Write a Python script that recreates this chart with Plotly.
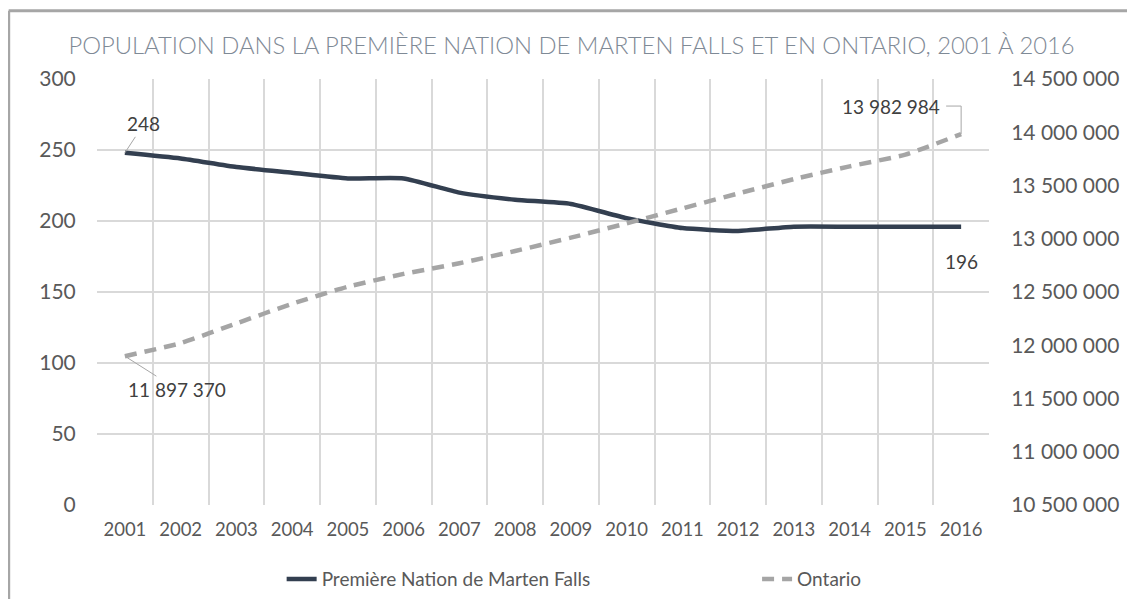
import plotly.graph_objects as go

years = list(range(2001, 2017))
marten_falls = [248, 244, 238, 234, 230, 230, 220, 215, 212, 202, 195, 193, 196, 196, 196, 196]
ontario = [11897370, 12020000, 12205000, 12390000, 12550000, 12670000, 12770000, 12885000,
           13010000, 13145000, 13285000, 13425000, 13560000, 13680000, 13790000, 13982984]
left_ticks = list(range(0, 301, 50))
right_ticks = list(range(10500000, 14500001, 500000))

title_text = "POPULATION DANS LA PREMIÈRE NATION DE MARTEN FALLS ET EN ONTARIO, 2001 À 2016"
FONT = "Lato"


def fmt(n):
    # thousands separated by a space, as in the French original
    return f"{n:,}".replace(",", " ")


fig = go.Figure()
fig.add_trace(go.Scatter(
    x=years, y=marten_falls, name="Première Nation de Marten Falls",
    mode="lines", line=dict(color="#333f50", width=4.5, shape="spline", smoothing=0.5),
    yaxis="y", legend="legend"
))
fig.add_trace(go.Scatter(
    x=years, y=ontario, name="Ontario",
    mode="lines", line=dict(color="#a5a5a5", width=4.5, dash="12px,8px", shape="spline", smoothing=0.5),
    yaxis="y2", legend="legend2"
))

label_font = dict(size=19, color="#404040", family=FONT)

# data labels
fig.add_annotation(x=years[0], y=marten_falls[0], yref="y", text=fmt(marten_falls[0]),
                   showarrow=True, arrowhead=0, arrowwidth=1, arrowcolor="#a6a6a6",
                   ax=19, ay=-29, font=label_font)
fig.add_annotation(x=years[-1], y=marten_falls[-1], yref="y", text=fmt(marten_falls[-1]),
                   showarrow=False, yshift=-35, font=label_font)
fig.add_annotation(x=years[0], y=ontario[0], yref="y2", text=fmt(ontario[0]),
                   showarrow=True, arrowhead=0, arrowwidth=1, arrowcolor="#a6a6a6",
                   ax=52, ay=33, font=label_font)
fig.add_annotation(x=years[-1], y=ontario[-1], yref="y2", text=fmt(ontario[-1]),
                   showarrow=False, xanchor="right", xshift=-19, yshift=28, font=label_font)
fig.add_shape(type="path", xref="x", yref="y2", xsizemode="pixel", ysizemode="pixel",
              xanchor=years[-1], yanchor=ontario[-1], path="M0,0 L0,28 L-15,28",
              line=dict(color="#a6a6a6", width=1))

# outer chart frame (cropped at the right and bottom)
fig.add_shape(type="line", xref="paper", yref="paper", x0=-0.099, x1=1.2, y0=1.16, y1=1.16,
              line=dict(color="#a6a6a6", width=3))
fig.add_shape(type="line", xref="paper", yref="paper", x0=-0.099, x1=-0.099, y0=1.16, y1=-0.3,
              line=dict(color="#a6a6a6", width=3))

# the page puts the figure 8px in from the top-left corner
fig.update_layout(
    width=1127, height=591,
    margin=dict(l=89, r=146, t=71, b=94, autoexpand=False),
    paper_bgcolor="white", plot_bgcolor="white",
    font=dict(family=FONT, size=18, color="#595959"),
    title=dict(text=title_text, x=0.5, xanchor="center", y=0.937, yanchor="middle",
               font=dict(family=FONT, size=23.8, color="#7f8a96", weight=300)),
    xaxis=dict(
        range=[2000.5, 2016.5], tickvals=years, ticktext=[str(y) for y in years],
        showgrid=False, zeroline=False, showline=False, automargin=False,
        ticks="outside", ticklen=8, tickcolor="rgba(0,0,0,0)",
        tickfont=dict(size=18.5),
        minor=dict(tick0=2000.5, dtick=1, showgrid=True, gridcolor="#d9d9d9", gridwidth=1.5),
    ),
    yaxis=dict(
        range=[0, 300], tickvals=left_ticks, showgrid=True, gridcolor="#d9d9d9", gridwidth=1.5,
        zeroline=False, ticks="outside", ticklen=16, tickcolor="rgba(0,0,0,0)",
        automargin=False, tickfont=dict(size=21),
    ),
    yaxis2=dict(
        range=[10500000, 14500000], tickvals=right_ticks, ticktext=[fmt(v) for v in right_ticks],
        overlaying="y", side="right", showgrid=False, zeroline=False, automargin=False,
        ticks="outside", ticklen=17, tickcolor="rgba(0,0,0,0)",
        tickfont=dict(size=21),
    ),
    showlegend=True,
    legend=dict(orientation="h", x=0.207, xanchor="left", y=-0.174, yanchor="middle",
                font=dict(size=19, color="#595959")),
    legend2=dict(orientation="h", x=0.74, xanchor="left", y=-0.174, yanchor="middle",
                 font=dict(size=19, color="#595959")),
)

fig.write_html("out.html")
